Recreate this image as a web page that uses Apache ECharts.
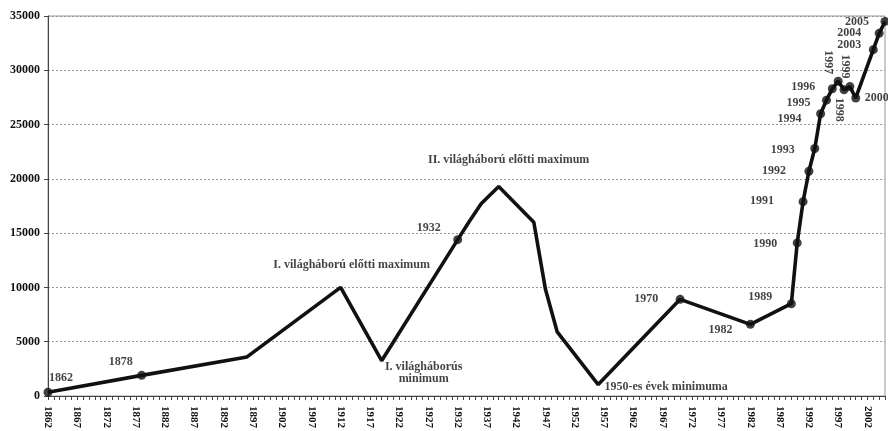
<!DOCTYPE html>
<html>
<head>
<meta charset="utf-8">
<script src="https://cdn.jsdelivr.net/npm/echarts@6/dist/echarts.min.js"></script>
<style>
html,body{margin:0;padding:0;background:#fff;}
#chart{width:888px;height:431px;}
</style>
</head>
<body>
<div id="chart"></div>
<script>
// ---- data ----
const years = [1862,1878,1896,1912,1919,1932,1934,1936,1939,1945,1947,1949,1956,1970,1982,1989,1990,1991,1992,1993,1994,1995,1996,1997,1998,1999,2000,2003,2004,2005];
const values = [350,1900,3600,10000,3250,14400,16100,17700,19300,16000,9800,5900,1050,8900,6600,8500,14100,17900,20700,22800,26000,27250,28300,29000,28200,28500,27450,31900,33400,34500];
const markedYears = [1862,1878,1932,1970,1982,1989,1990,1991,1992,1993,1994,1995,1996,1997,1998,1999,2000,2003,2004,2005];
const annotationYears = [1912,1919,1939,1956];
const annotationTexts = ['I. világháború előtti maximum','I. világháborús\nminimum','II. világháború előtti maximum','1950-es évek minimuma'];
const firstYear = 1862, lastYear = 2005;
const yTicks = [0,5000,10000,15000,20000,25000,30000,35000];

// ---- layout (label offsets, styles) ----
// for rotated labels (-90) the offset is in the rotated frame: [screenDy, -screenDx]
const labelLayout = {
  1862:[13,-14],1878:[-21,-13],1932:[-29,-12],1970:[-34,0],1982:[-30,6],1989:[-31,-7],
  1990:[-32,1],1991:[-41,-1],1992:[-35,0],1993:[-32,1],1994:[-31,5],1995:[-28,3],1996:[-29,-2],
  1997:[-19,10,-90],1998:[20,5,-90],1999:[-20,5,-90],2000:[21,0],2003:[-24,-5],2004:[-30,0],2005:[-28,0],
  1912:[11,-23],1919:[42,12],1939:[10,-27],1956:[68,2]
};

const cats = [];
for (let y = firstYear; y <= lastYear; y++) cats.push(String(y));

const lineData = cats.map(() => null);
years.forEach((y, i) => { lineData[y - firstYear] = values[i]; });

const labelFont = {fontFamily:'Liberation Serif', fontWeight:'bold', fontSize:12, color:'#111'};
const scatterData = [];
years.forEach((y, i) => {
  const marked = markedYears.indexOf(y) >= 0;
  const ai = annotationYears.indexOf(y);
  if (!marked && ai < 0) return;
  const lay = labelLayout[y] || [0,0];
  scatterData.push({
    value:[String(y), values[i]],
    symbolSize: marked ? 9 : 0,
    label: Object.assign({
      show:true,
      position:'inside',
      offset:[lay[0], lay[1]],
      rotate: lay[2] || 0,
      align:'center',
      verticalAlign:'middle',
      lineHeight:12,
      formatter: ai >= 0 ? annotationTexts[ai] : String(y)
    }, labelFont)
  });
});

const chart = echarts.init(document.getElementById('chart'), null, {renderer:'canvas'});
chart.setOption({
  animation:false,
  backgroundColor:'#fff',
  grid:{left:48,right:3,top:16,bottom:33,show:true,borderColor:'#999',borderWidth:1,backgroundColor:'transparent'},
  xAxis:{
    type:'category',
    data:cats,
    boundaryGap:false,
    axisLine:{lineStyle:{color:'#444',width:1}},
    axisTick:{show:true,interval:0,length:4,lineStyle:{color:'#444'}},
    axisLabel:{interval:4,rotate:-90,margin:10,fontFamily:'Liberation Serif',fontWeight:'bold',fontSize:11,color:'#111'},
    splitLine:{show:false}
  },
  yAxis:{
    type:'value',
    min:yTicks[0],
    max:yTicks[yTicks.length-1],
    interval:yTicks[1]-yTicks[0],
    axisLine:{show:true,lineStyle:{color:'#444',width:1}},
    axisTick:{show:true,length:4,lineStyle:{color:'#444'}},
    axisLabel:{margin:8,fontFamily:'Liberation Serif',fontWeight:'bold',fontSize:12,color:'#111',formatter:function(v){return String(v);}},
    splitLine:{show:true,lineStyle:{color:'#999',type:[2,2],width:1}}
  },
  series:[
    {
      type:'line',
      data:lineData,
      connectNulls:true,
      showSymbol:false,
      lineStyle:{color:'#111',width:3.6},
      z:2
    },
    {
      type:'scatter',
      data:scatterData,
      symbol:'circle',
      itemStyle:{color:'#111'},
      z:3
    }
  ]
});
</script>
</body>
</html>
